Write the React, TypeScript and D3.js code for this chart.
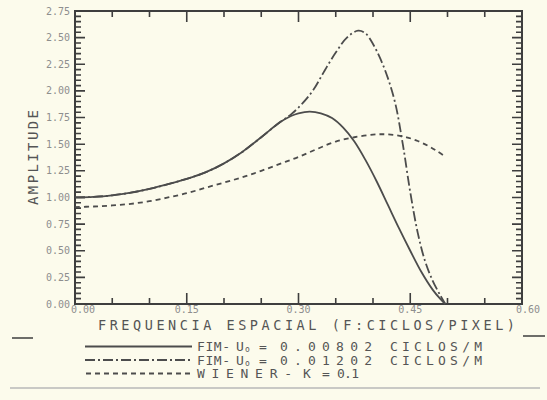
import React from 'react';
import * as d3 from 'd3';

// FIM - Uo = 0.00802 (solid)
const fimLowX = [0, 0.025, 0.05, 0.075, 0.1, 0.125, 0.15, 0.175, 0.2, 0.225, 0.25, 0.275, 0.29, 0.3, 0.315, 0.33, 0.345, 0.36, 0.375, 0.39, 0.405, 0.42, 0.435, 0.45, 0.465, 0.48, 0.49, 0.497];
const fimLowY = [1.0, 1.005, 1.02, 1.045, 1.08, 1.125, 1.175, 1.235, 1.32, 1.43, 1.565, 1.705, 1.765, 1.79, 1.805, 1.79, 1.745, 1.655, 1.525, 1.35, 1.15, 0.93, 0.71, 0.5, 0.3, 0.135, 0.05, 0.0];

// FIM - Uo = 0.01202 (dash-dot)
const fimHighX = [0, 0.025, 0.05, 0.075, 0.1, 0.125, 0.15, 0.175, 0.2, 0.225, 0.25, 0.275, 0.29, 0.305, 0.32, 0.335, 0.35, 0.365, 0.38, 0.39, 0.4, 0.41, 0.42, 0.43, 0.44, 0.45, 0.46, 0.47, 0.48, 0.49, 0.497];
const fimHighY = [1.0, 1.005, 1.02, 1.045, 1.08, 1.125, 1.175, 1.235, 1.32, 1.43, 1.565, 1.705, 1.78, 1.88, 2.01, 2.19, 2.36, 2.5, 2.565, 2.54, 2.44, 2.3, 2.12, 1.88, 1.5, 1.05, 0.67, 0.4, 0.22, 0.085, 0.0];

// WIENER - K = 0.1 (dashed)
const wienerX = [0, 0.025, 0.05, 0.075, 0.1, 0.125, 0.15, 0.175, 0.2, 0.225, 0.25, 0.275, 0.3, 0.325, 0.35, 0.375, 0.4, 0.415, 0.43, 0.445, 0.46, 0.475, 0.487, 0.497];
const wienerY = [0.91, 0.915, 0.925, 0.94, 0.965, 1.0, 1.04, 1.09, 1.14, 1.19, 1.25, 1.315, 1.38, 1.455, 1.525, 1.565, 1.59, 1.593, 1.585, 1.565, 1.53, 1.48, 1.43, 1.385];

const xTicks = [0, 0.15, 0.3, 0.45, 0.6];
const xTickLabels = ['0.00', '0.15', '0.30', '0.45', '0.60'];
const yTicks = [0, 0.25, 0.5, 0.75, 1.0, 1.25, 1.5, 1.75, 2.0, 2.25, 2.5, 2.75];
const yTickLabels = ['0.00', '0.25', '0.50', '0.75', '1.00', '1.25', '1.50', '1.75', '2.00', '2.25', '2.50', '2.75'];

const legendValues = ['0.00802', '0.01202'];

const W = 547;
const H = 400;
const ink = '#3e3e3e';
const faint = '#8e8e8e';
const mono = '"DejaVu Sans Mono", monospace';

const App = () => {
  const x = d3.scaleLinear().domain([0, 0.6]).range([75, 522]);
  const y = d3.scaleLinear().domain([0, 2.75]).range([304, 11]);

  const line = d3.line<[number, number]>()
    .x(d => x(d[0]))
    .y(d => y(d[1]))
    .curve(d3.curveCatmullRom.alpha(0.5));

  const zip = (xs: number[], ys: number[]) => xs.map((v, i) => [v, ys[i]] as [number, number]);

  const series = [
    { pts: zip(fimLowX, fimLowY), dash: 'none' },
    { pts: zip(fimHighX, fimHighY), dash: '10 3 2 3' },
    { pts: zip(wienerX, wienerY), dash: '5 4' },
  ];

  const [x0, x1] = x.range();
  const [y0, y1] = y.range();

  // tick marks as one path: minor every 0.05, long ones on labelled values
  const tickPath = d3.path();
  for (let k = 0; k <= 12; k++) {
    const px = x(k * 0.05);
    const len = k % 3 === 0 ? 11 : 6;
    tickPath.moveTo(px, y0); tickPath.lineTo(px, y0 - len);
    tickPath.moveTo(px, y1); tickPath.lineTo(px, y1 + len);
  }
  for (let k = 0; k <= 55; k++) {
    const py = y(k * 0.05);
    const len = k % 5 === 0 ? 10 : 6;
    tickPath.moveTo(x0, py); tickPath.lineTo(x0 + len, py);
    tickPath.moveTo(x1, py); tickPath.lineTo(x1 - len, py);
  }

  return (
    <svg width={W} height={H} style={{ position: 'absolute', left: 0, top: 0 }}>
      <rect width={W} height={H} fill="#fcfbec" />

      <path d={tickPath.toString()} fill="none" stroke={ink} strokeWidth={1.6} />
      <rect x={x0} y={y1} width={x1 - x0} height={y0 - y1} fill="none" stroke={ink} strokeWidth={2} />

      {/* tick labels */}
      <g fontFamily={mono} fontSize={10} fill={faint}>
        {yTicks.map((t, i) => (
          <text key={'yl' + i} x={70} y={y(t)} dy="0.35em" textAnchor="end">{yTickLabels[i]}</text>
        ))}
        {xTicks.map((t, i) => (
          <text key={'xl' + i} x={x(t) + (i === 0 ? 8 : i === 4 ? 6 : 0)} y={313} textAnchor="middle">{xTickLabels[i]}</text>
        ))}
      </g>

      {/* curves */}
      <g fill="none" stroke="#4c4c4c" strokeWidth={1.8}>
        {series.map((s, i) => (
          <path key={'s' + i} d={line(s.pts) || ''} strokeDasharray={s.dash} />
        ))}
      </g>

      {/* axis titles */}
      <text x={98} y={330} fontFamily={mono} fontSize={13.5} fill="#555" textLength={417} lengthAdjust="spacing">
        FREQUENCIA ESPACIAL (F:CICLOS/PIXEL)
      </text>
      <text transform="translate(38,205) rotate(-90)" fontFamily={mono} fontSize={14} fill="#555" textLength={95} lengthAdjust="spacing">
        AMPLITUDE
      </text>

      {/* side marks and bottom rule */}
      <line x1={12} x2={33} y1={338} y2={338} stroke={ink} strokeWidth={1.5} />
      <line x1={523} x2={545} y1={336} y2={336} stroke={ink} strokeWidth={1.5} />
      <line x1={10} x2={540} y1={388} y2={388} stroke="#b8b8b8" strokeWidth={1.5} />

      {/* legend */}
      <g stroke="#4c4c4c" strokeWidth={1.8}>
        <line x1={85} x2={192} y1={346.5} y2={346.5} />
        <line x1={85} x2={193} y1={360} y2={360} strokeDasharray="10 3 2 3" />
        <line x1={86} x2={191} y1={373.5} y2={373.5} strokeDasharray="5 4" />
      </g>
      <g fontFamily={mono} fontSize={13} fill="#555">
        {legendValues.map((v, i) => {
          const by = 351 + i * 13.5;
          return (
            <text key={'lg' + i} y={by}>
              <tspan x={197} textLength={33} lengthAdjust="spacing">FIM-</tspan>
              <tspan x={236}>U</tspan>
              <tspan x={245} dy={1} fontSize={8}>o</tspan>
              <tspan x={259} dy={-1}>=</tspan>
              <tspan x={280} textLength={92} lengthAdjust="spacing">{v}</tspan>
              <tspan x={390} textLength={92} lengthAdjust="spacing">CICLOS/M</tspan>
            </text>
          );
        })}
        <text y={378}>
          <tspan x={197} textLength={95} lengthAdjust="spacing">WIENER-</tspan>
          <tspan x={303}>K</tspan>
          <tspan x={322}>=</tspan>
          <tspan x={337} textLength={22} lengthAdjust="spacing">0.1</tspan>
        </text>
      </g>
    </svg>
  );
};

export default App;
